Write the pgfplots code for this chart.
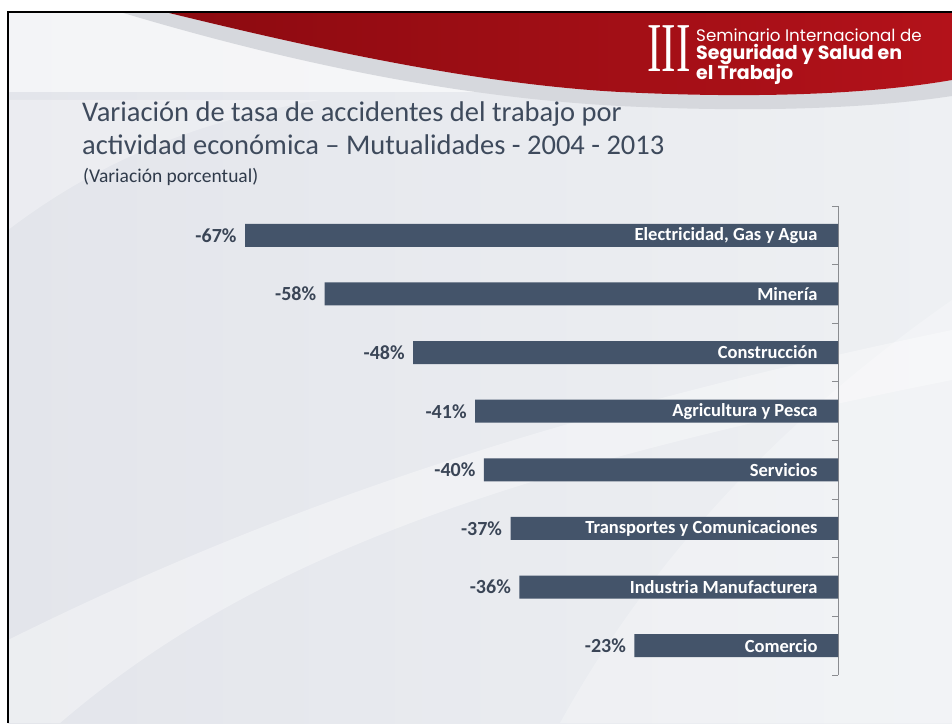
\documentclass[border=0pt]{standalone}
\usepackage{pgfplots}
\pgfplotsset{compat=1.18}
\usepackage{fontspec}
\setmainfont{Carlito}
\newfontfamily\logofont{Poppins}
\newfontfamily\serifIII{Liberation Serif}
\definecolor{barcol}{HTML}{44546A}
\definecolor{valcol}{HTML}{3A4556}
\definecolor{titlecol}{HTML}{3E4A5C}
\definecolor{subcol}{HTML}{2F3A4A}
\definecolor{axisgray}{HTML}{8A8C90}
\definecolor{slideL}{HTML}{E3E5EB}
\definecolor{slideR}{HTML}{EEF0F3}
\definecolor{redA}{HTML}{8C0A10}
\definecolor{redB}{HTML}{B3121A}
\definecolor{bandgray}{HTML}{D6D8DD}
\begin{document}
\begin{tikzpicture}
\useasboundingbox (0,0) rectangle (952pt,723pt);
\begin{scope}[x=1pt,y=-1pt,shift={(0pt,723pt)}]
  \fill[white] (0,0) rectangle (952,723);
  \shade[left color=slideL, right color=slideR] (8,12) rectangle (952,723);
  % light swooshes
  \fill[white, opacity=0.35] (8,723) -- (60,723) .. controls (250,560) and (500,470) .. (952,380) -- (952,330) .. controls (520,420) and (250,520) .. (8,640) -- cycle;
  \fill[white, opacity=0.30] (8,230) .. controls (100,160) and (200,120) .. (320,100) -- (8,100) -- cycle;
  \fill[white, opacity=0.25] (560,723) .. controls (650,560) and (780,420) .. (952,300) -- (952,723) -- cycle;
  % header
  \fill[white, opacity=0.6] (8,12) -- (165,12) .. controls (300,45) and (470,84) .. (620,92) -- (8,92) -- cycle;
  \fill[bandgray] (120,12) -- (165,12) .. controls (300,45) and (470,84) .. (620,92) .. controls (740,98) and (860,96) .. (952,80) -- (952,96) .. controls (860,110) and (740,112) .. (620,106) .. controls (450,97) and (280,60) .. (120,12) -- cycle;
  \shade[left color=redA, right color=redB] (165,12) -- (952,12) -- (952,80) .. controls (860,96) and (740,98) .. (620,92) .. controls (470,84) and (300,45) .. (165,12) -- cycle;
  % border
  \draw[black, line width=2.2pt] (8,723) -- (8,12) -- (952,12);
  % logo
  \node[anchor=base west, inner sep=0, text=white, xscale=0.62] at (647,72) {\serifIII\fontsize{70}{70}\selectfont III};
  \node[anchor=base west, inner sep=0, text=white] at (696,42) {\logofont\fontsize{16.7}{16.7}\selectfont Seminario Internacional de};
  \node[anchor=base west, inner sep=0, text=white] at (696,60) {\logofont\bfseries\fontsize{19}{19}\selectfont Seguridad y Salud en};
  \node[anchor=base west, inner sep=0, text=white] at (696,80) {\logofont\bfseries\fontsize{19}{19}\selectfont el Trabajo};
  % title
  \node[anchor=base west, inner sep=0, text=titlecol] at (82,122) {\fontsize{28.5}{28.5}\selectfont Variación de tasa de accidentes del trabajo por};
  \node[anchor=base west, inner sep=0, text=titlecol] at (82,155) {\fontsize{28.5}{28.5}\selectfont actividad económica – Mutualidades - 2004 - 2013};
  \node[anchor=base west, inner sep=0, text=subcol] at (83,183) {\fontsize{19.5}{19.5}\selectfont (Variación porcentual)};
\end{scope}
\begin{axis}[
  at={(838pt,48pt)}, anchor=south east,
  scale only axis, width=593pt, height=469pt,
  xbar, bar width=23pt,
  xmin=-67, xmax=0,
  ymin=-0.5, ymax=7.5,
  axis x line=none,
  axis y line=right,
  y axis line style={draw=axisgray, line width=0.8pt, -},
  ytick={-0.5,0.5,...,7.5}, yticklabels={},
  tick align=inside,
  major tick length=6pt,
  tick style={draw=axisgray, line width=0.8pt},
  clip=false,
  point meta=explicit symbolic,
  nodes near coords,
  nodes near coords align={horizontal},
  every node near coord/.append style={font=\bfseries\fontsize{20}{20}\selectfont, text=valcol, anchor=east, xshift=-5pt},
]
\addplot[fill=barcol, draw=none] coordinates {
  (-67,7) [-67\%]
  (-58,6) [-58\%]
  (-48,5) [-48\%]
  (-41,4) [-41\%]
  (-40,3) [-40\%]
  (-37,2) [-37\%]
  (-36,1) [-36\%]
  (-23,0) [-23\%]
};
\begin{scope}[every node/.style={anchor=east, text=white, font=\bfseries\fontsize{18.5}{18.5}\selectfont, xshift=-17pt}]
\node at (axis cs:0,7) {Electricidad, Gas y Agua};
\node at (axis cs:0,6) {Minería};
\node at (axis cs:0,5) {Construcción};
\node at (axis cs:0,4) {Agricultura y Pesca};
\node at (axis cs:0,3) {Servicios};
\node at (axis cs:0,2) {Transportes y Comunicaciones};
\node at (axis cs:0,1) {Industria Manufacturera};
\node at (axis cs:0,0) {Comercio};
\end{scope}
\end{axis}
\end{tikzpicture}
\end{document}
